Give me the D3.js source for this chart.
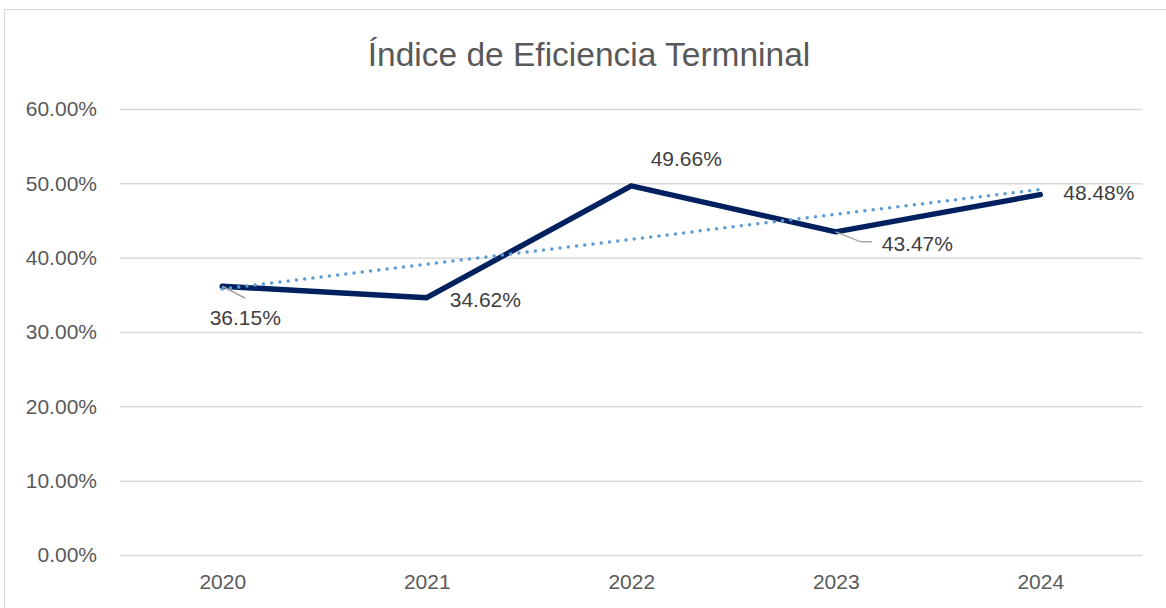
<!DOCTYPE html>
<html>
<head>
<meta charset="utf-8">
<script src="https://cdn.jsdelivr.net/npm/d3@7"></script>
<style>
  html, body { margin: 0; padding: 0; background: #fff; }
  svg { display: block; }
  text { font-family: "Liberation Sans", Arial, sans-serif; }
</style>
</head>
<body>
<svg id="chart" width="1166" height="608"></svg>
<script>
const title = "Índice de Eficiencia Termninal";
const categories = ["2020", "2021", "2022", "2023", "2024"];
const values = [0.3615, 0.3462, 0.4966, 0.4347, 0.4848];
const yTicks = [0, 0.1, 0.2, 0.3, 0.4, 0.5, 0.6];
const labelTexts = ["36.15%", "34.62%", "49.66%", "43.47%", "48.48%"];

// label placement offsets relative to point (dx: anchor x offset, dy: baseline offset)
const labelPlacement = [
  { dx: 23, dy: 39, anchor: "middle", leader: [[0, 0], [23, 12]] },
  { dx: 23, dy: 9, anchor: "start", leader: null },
  { dx: 55, dy: -20, anchor: "middle", leader: null },
  { dx: 46, dy: 19, anchor: "start", leader: [[0, 0], [25, 10], [36, 10]] },
  { dx: 23, dy: 5, anchor: "start", leader: null }
];

const svg = d3.select("#chart");
const W = 1166, H = 608;
const margin = { left: 120, right: 23.5, top: 109, bottom: 53 };

// chart border
svg.append("rect")
  .attr("x", 4.5).attr("y", 9.5)
  .attr("width", W + 10).attr("height", H + 10)
  .attr("fill", "#fff").attr("stroke", "#D9D9D9").attr("stroke-width", 1);

const x = d3.scalePoint().domain(categories)
  .range([margin.left, W - margin.right]).padding(0.5);
const y = d3.scaleLinear().domain([0, 0.6])
  .range([H - margin.bottom, margin.top]);

// title
svg.append("text")
  .attr("x", 589).attr("y", 66)
  .attr("text-anchor", "middle")
  .attr("font-size", 33.5)
  .attr("fill", "#595959")
  .text(title);

// gridlines + y axis
const yAxis = d3.axisLeft(y).tickValues(yTicks)
  .tickFormat(d => d3.format(".2f")(d * 100) + "%")
  .tickSize(-(W - margin.right - margin.left)).tickPadding(23);
const gy = svg.append("g").attr("transform", `translate(${margin.left},0)`).call(yAxis);
gy.select(".domain").remove();
gy.selectAll(".tick line").attr("stroke", "#D9D9D9").attr("stroke-width", 1.5);
gy.selectAll(".tick text").attr("font-size", 21).attr("fill", "#595959")
  .attr("font-family", "Liberation Sans, Arial, sans-serif");

// x axis
const xAxis = d3.axisBottom(x).tickSize(0).tickPadding(19);
const gx = svg.append("g").attr("transform", `translate(0,${H - margin.bottom})`).call(xAxis);
gx.select(".domain").remove();
gx.selectAll(".tick text").attr("font-size", 21).attr("fill", "#595959")
  .attr("font-family", "Liberation Sans, Arial, sans-serif");

// linear trendline (least squares over category index)
const n = values.length;
const xs = d3.range(n);
const mx = d3.mean(xs), my = d3.mean(values);
const slope = d3.sum(xs, i => (i - mx) * (values[i] - my)) / d3.sum(xs, i => (i - mx) ** 2);
const intercept = my - slope * mx;
const trend = [0, n - 1].map(i => ({ c: categories[i], v: intercept + slope * i }));

// main line
const line = d3.line().x(d => x(d.c)).y(d => y(d.v));
const data = categories.map((c, i) => ({ c, v: values[i] }));

svg.append("path").datum(data)
  .attr("d", line)
  .attr("fill", "none")
  .attr("stroke", "#002060")
  .attr("stroke-width", 5.5)
  .attr("stroke-linejoin", "round")
  .attr("stroke-linecap", "round");

svg.append("path").datum(trend)
  .attr("d", line)
  .attr("fill", "none")
  .attr("stroke", "#5B9BD5")
  .attr("stroke-width", 3.5)
  .attr("stroke-dasharray", "0 8.3")
  .attr("stroke-linecap", "round");

// leader lines
data.forEach((d, i) => {
  const p = labelPlacement[i];
  if (!p.leader) return;
  const px = x(d.c), py = y(d.v);
  svg.append("path")
    .attr("d", d3.line()(p.leader.map(([a, b]) => [px + a, py + b])))
    .attr("fill", "none").attr("stroke", "#A6A6A6").attr("stroke-width", 1.5);
});

// data labels
svg.append("g").selectAll("text").data(data).join("text")
  .attr("x", (d, i) => x(d.c) + labelPlacement[i].dx)
  .attr("y", (d, i) => y(d.v) + labelPlacement[i].dy)
  .attr("text-anchor", (d, i) => labelPlacement[i].anchor)
  .attr("font-size", 21)
  .attr("fill", "#404040")
  .text((d, i) => labelTexts[i]);
</script>
</body>
</html>
